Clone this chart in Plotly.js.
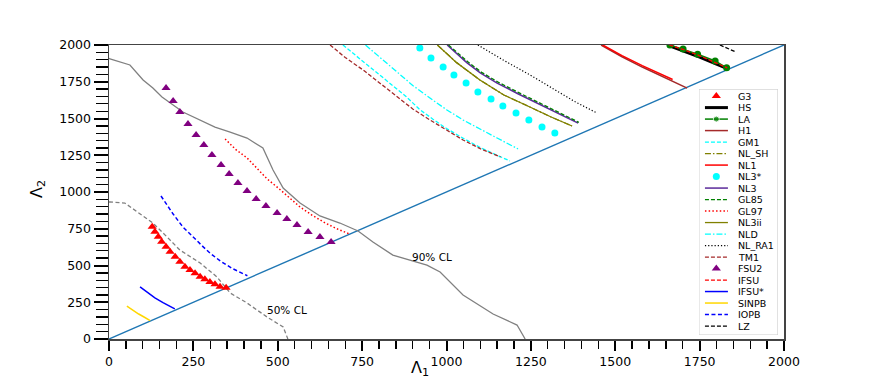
<!DOCTYPE html>
<html><head><meta charset="utf-8">
<script src="https://cdn.plot.ly/plotly-3.0.1.min.js"></script>
<style>html,body{margin:0;padding:0;background:#fff}#chart{width:872px;height:381px}</style>
</head><body><div id="chart"></div>
<script>
// ---- data (Λ1, Λ2) ----
const diagX = [0, 2000];
const diagY = [0, 2000];
const cl90X = [0, 3, 62, 101, 130, 157, 219, 314, 359, 409, 456, 486, 516, 566, 625, 684, 738, 782, 841, 942, 981, 1049, 1138, 1209, 1233];
const cl90Y = [1910, 1905, 1864, 1762, 1707, 1646, 1544, 1442, 1408, 1367, 1299, 1150, 1027, 925, 837, 789, 735, 660, 571, 503, 456, 299, 170, 95, 0];
const cl50X = [0, 3, 47, 83, 130, 172, 210, 270, 320, 359, 409, 468, 516, 530];
const cl50Y = [932, 932, 925, 864, 789, 694, 605, 517, 422, 313, 245, 150, 82, 0];

const g3X = [128, 136, 146, 156, 169, 181, 196, 210, 225, 240, 255, 270, 284, 299, 314, 329, 347];
const g3Y = [764, 730, 696, 662, 628, 594, 560, 526, 492, 469, 447, 424, 406, 388, 372, 356, 349];
const hsX = [1655, 1700, 1750, 1800, 1834];
const hsY = [2000, 1962, 1918, 1870, 1838];
const laX = [1662, 1701, 1744, 1796, 1830];
const laY = [2000, 1972, 1937, 1891, 1845];
const h1X = [1458, 1520, 1580, 1640, 1713];
const h1Y = [2000, 1920, 1850, 1785, 1707];
const gm1X = [693, 740, 790, 840, 880, 921, 960, 1000, 1050, 1100, 1150, 1188];
const gm1Y = [2000, 1910, 1815, 1725, 1650, 1560, 1495, 1432, 1365, 1302, 1250, 1211];
const nlshX = [973, 1030, 1099, 1170, 1247, 1310, 1372];
const nlshY = [2000, 1880, 1762, 1660, 1578, 1510, 1449];
const nl1X = [1463, 1520, 1580, 1630, 1670];
const nl1Y = [2000, 1928, 1860, 1805, 1765];
const nl3sX = [921, 954, 990, 1022, 1058, 1093, 1132, 1167, 1206, 1244, 1283, 1321];
const nl3sY = [1980, 1912, 1850, 1796, 1741, 1680, 1633, 1585, 1537, 1490, 1442, 1401];
const nl3X = [1002, 1060, 1100, 1150, 1210, 1268, 1330, 1390];
const nl3Y = [2000, 1880, 1810, 1741, 1670, 1605, 1535, 1469];
const gl85X = [1006, 1064, 1104, 1154, 1214, 1272, 1334, 1392];
const gl85Y = [2000, 1884, 1814, 1746, 1676, 1611, 1541, 1474];
const gl97X = [344, 375, 409, 440, 468, 500, 535, 566, 600, 640, 675, 712];
const gl97Y = [1361, 1290, 1232, 1160, 1090, 1030, 960, 898, 845, 790, 750, 715];
const nl3iiX = [973, 1030, 1099, 1170, 1247, 1310, 1372];
const nl3iiY = [2000, 1880, 1762, 1660, 1578, 1510, 1449];
const nldX = [760, 800, 853, 900, 951, 1000, 1049, 1100, 1150, 1212];
const nldY = [2000, 1920, 1816, 1725, 1639, 1560, 1490, 1425, 1367, 1293];
const nlra1X = [1093, 1170, 1247, 1320, 1380, 1446];
const nlra1Y = [2000, 1895, 1797, 1700, 1615, 1537];
const tm1X = [655, 700, 753, 800, 853, 900, 951, 1000, 1049, 1100, 1160];
const tm1Y = [2000, 1915, 1830, 1745, 1646, 1565, 1490, 1420, 1354, 1295, 1238];
const fsu2X = [169, 190, 210, 234, 258, 281, 305, 332, 356, 382, 409, 436, 465, 498, 527, 557, 590, 625, 658];
const fsu2Y = [1707, 1619, 1544, 1463, 1388, 1320, 1252, 1184, 1122, 1061, 1007, 952, 905, 857, 816, 776, 728, 694, 660];
const ifsuX = [1660, 1705, 1752, 1800, 1832];
const ifsuY = [2000, 1967, 1925, 1878, 1844];
const ifsusX = [92, 115, 136, 160, 195];
const ifsusY = [354, 315, 280, 248, 205];
const sinpbX = [53, 70, 88, 105, 122];
const sinpbY = [224, 197, 170, 148, 125];
const iopbX = [154, 170, 190, 219, 250, 280, 299, 330, 365, 410];
const iopbY = [973, 915, 850, 762, 690, 625, 585, 530, 480, 430];
const lzX = [1810, 1855];
const lzY = [2000, 1955];

const xTicks = [0, 250, 500, 750, 1000, 1250, 1500, 1750, 2000];
const yTicks = [0, 250, 500, 750, 1000, 1250, 1500, 1750, 2000];
const clLabels = ["90% CL", "50% CL"];
const axisTitles = ["Λ<sub>1</sub>", "Λ<sub>2</sub>"];

// ---- series definitions ----
const series = [
  {name: "G3", x: g3X, y: g3Y, mode: "markers", marker: {symbol: "triangle-up", color: "red", size: 8}},
  {name: "HS", x: hsX, y: hsY, mode: "lines", line: {color: "black", width: 3}},
  {name: "LA", x: laX, y: laY, mode: "lines+markers", line: {color: "green", width: 1.5}, marker: {color: "green", size: 7}},
  {name: "H1", x: h1X, y: h1Y, mode: "lines", line: {color: "#a52a2a", width: 1.5}},
  {name: "GM1", x: gm1X, y: gm1Y, mode: "lines", line: {color: "cyan", width: 1.3, dash: "4px,2px"}},
  {name: "NL_SH", x: nlshX, y: nlshY, mode: "lines", line: {color: "#808000", width: 1.3, dash: "6px,2px,1.5px,2px"}},
  {name: "NL1", x: nl1X, y: nl1Y, mode: "lines", line: {color: "red", width: 1.5}},
  {name: "NL3*", x: nl3sX, y: nl3sY, mode: "markers", marker: {symbol: "circle", color: "cyan", size: 7}},
  {name: "NL3", x: nl3X, y: nl3Y, mode: "lines", line: {color: "#5b2a9a", width: 1.5}},
  {name: "GL85", x: gl85X, y: gl85Y, mode: "lines", line: {color: "green", width: 1.3, dash: "4px,2px"}},
  {name: "GL97", x: gl97X, y: gl97Y, mode: "lines", line: {color: "red", width: 1.5, dash: "1.5px,2.2px"}},
  {name: "NL3ii", x: nl3iiX, y: nl3iiY, mode: "lines", line: {color: "#808000", width: 1.3}},
  {name: "NLD", x: nldX, y: nldY, mode: "lines", line: {color: "cyan", width: 1.3, dash: "6px,2px,1.5px,2px"}},
  {name: "NL_RA1", x: nlra1X, y: nlra1Y, mode: "lines", line: {color: "black", width: 1.2, dash: "1.2px,2px"}},
  {name: "TM1", x: tm1X, y: tm1Y, mode: "lines", line: {color: "#a52a2a", width: 1.3, dash: "4px,2px"}},
  {name: "FSU2", x: fsu2X, y: fsu2Y, mode: "markers", marker: {symbol: "triangle-up", color: "purple", size: 8}},
  {name: "IFSU", x: ifsuX, y: ifsuY, mode: "lines", line: {color: "red", width: 1.3, dash: "4px,2px"}},
  {name: "IFSU*", x: ifsusX, y: ifsusY, mode: "lines", line: {color: "blue", width: 1.5}},
  {name: "SINPB", x: sinpbX, y: sinpbY, mode: "lines", line: {color: "gold", width: 1.5}},
  {name: "IOPB", x: iopbX, y: iopbY, mode: "lines", line: {color: "blue", width: 1.5, dash: "4px,2.5px"}},
  {name: "LZ", x: lzX, y: lzY, mode: "lines", line: {color: "black", width: 1.3, dash: "4px,2px"}}
];

const FONT = "DejaVu Sans, sans-serif";
const traces = [];
traces.push({x: diagX, y: diagY, mode: "lines", line: {color: "#1f77b4", width: 1.4}, showlegend: false, hoverinfo: "skip"});
traces.push({x: cl90X, y: cl90Y, mode: "lines", line: {color: "grey", width: 1.3}, showlegend: false});
traces.push({x: cl50X, y: cl50Y, mode: "lines", line: {color: "grey", width: 1.3, dash: "4px,2.5px"}, showlegend: false});
series.forEach(s => {
  const t = {x: s.x, y: s.y, mode: s.mode, name: s.name, showlegend: false, cliponaxis: true};
  if (s.line) t.line = s.line;
  if (s.marker) t.marker = s.marker;
  traces.push(t);
});

// ---- text annotations ----
const annotations = [
  {text: clLabels[0], x: 957, y: 558, xref: "x", yref: "y", showarrow: false, font: {family: FONT, size: 10.5, color: "black"}},
  {text: clLabels[1], x: 527, y: 197, xref: "x", yref: "y", showarrow: false, font: {family: FONT, size: 10.5, color: "black"}},
  {text: axisTitles[0], x: (420 - 109) / 675, y: (339 - 369) / 294, xref: "paper", yref: "paper",
   xanchor: "center", yanchor: "middle", showarrow: false, font: {family: FONT, size: 16, color: "black"}},
  {text: axisTitles[1], x: (37 - 109) / 675, y: (339 - 189) / 294, xref: "paper", yref: "paper", textangle: -90,
   xanchor: "center", yanchor: "middle", showarrow: false, font: {family: FONT, size: 16, color: "black"}}
];

// ---- hand-made legend (matplotlib-style compact spacing) ----
series.forEach((s, i) => {
  const t = {xaxis: "x2", yaxis: "y2", showlegend: false, hoverinfo: "skip", name: s.name};
  if (s.mode === "markers") {
    t.x = [0.22]; t.y = [i]; t.mode = "markers"; t.marker = s.marker;
  } else if (s.mode === "lines+markers") {
    t.x = [0.076, 0.22, 0.367]; t.y = [i, i, i]; t.mode = "lines+markers"; t.line = s.line;
    t.marker = {color: s.marker.color, size: [0, 6, 0]};
  } else {
    t.x = [0.076, 0.367]; t.y = [i, i]; t.mode = "lines"; t.line = s.line;
  }
  traces.push(t);
  annotations.push({text: s.name, x: 0.47, y: i, xref: "x2", yref: "y2", xanchor: "left", yanchor: "middle",
    showarrow: false, font: {family: FONT, size: 9.5, color: "black"}});
});

const layout = {
  width: 872, height: 381,
  margin: {l: 109, r: 88, t: 45, b: 42},
  paper_bgcolor: "white", plot_bgcolor: "white",
  showlegend: false,
  font: {family: FONT, color: "black"},
  xaxis: {
    range: [0, 2000], tickvals: xTicks, ticktext: xTicks.map(String),
    ticks: "outside", ticklen: 10, tickwidth: 2, tickcolor: "black",
    minor: {dtick: 50, ticks: "outside", ticklen: 8, tickwidth: 1.3, tickcolor: "black", showgrid: false},
    showgrid: false, zeroline: false, showline: true, mirror: true, linecolor: "#444", linewidth: 1.5,
    tickfont: {family: FONT, size: 12.5, color: "black"}
  },
  yaxis: {
    range: [0, 2000], tickvals: yTicks, ticktext: yTicks.map(String),
    ticks: "outside", ticklen: 14, tickwidth: 2, tickcolor: "black",
    minor: {dtick: 50, ticks: "outside", ticklen: 12, tickwidth: 1.3, tickcolor: "black", showgrid: false},
    showgrid: false, zeroline: false, showline: true, mirror: true, linecolor: "#444", linewidth: 1.5,
    tickfont: {family: FONT, size: 12.5, color: "black"}
  },
  xaxis2: {domain: [0.874, 0.991], range: [0, 1], visible: false, anchor: "y2", fixedrange: true},
  yaxis2: {domain: [0.0136, 0.850], range: [20.78, -0.609], visible: false, anchor: "x2", fixedrange: true},
  shapes: [
    {type: "rect", xref: "x2", yref: "y2", x0: 0, x1: 1, y0: -0.609, y1: 20.78,
     line: {color: "#cccccc", width: 1}, fillcolor: "rgba(255,255,255,0.8)", layer: "below"}
  ],
  annotations: annotations
};

Plotly.newPlot("chart", traces, layout, {staticPlot: true, displayModeBar: false});
</script>
</body></html>
